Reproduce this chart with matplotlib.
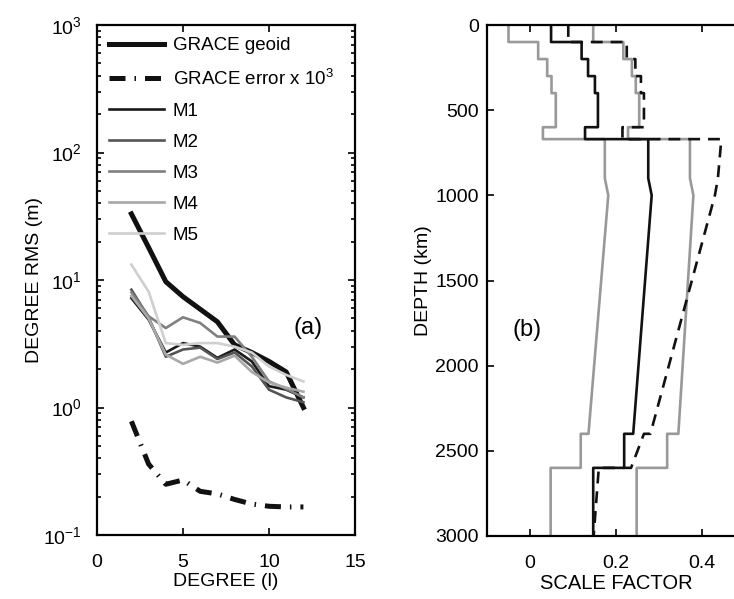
import numpy as np
import matplotlib
matplotlib.use('Agg')
import matplotlib.pyplot as plt

plt.rcParams['font.family'] = ['Liberation Sans', 'DejaVu Sans']
plt.rcParams['mathtext.fontset'] = 'custom'
plt.rcParams['mathtext.rm'] = 'Liberation Sans'

# panel (a): degree rms spectra
degree = [2, 3, 4, 5, 6, 7, 8, 9, 10, 11, 12]
grace_geoid = [33, 18, 9.7, 7.4, 5.9, 4.7, 3.1, 2.7, 2.3, 1.9, 1.0]
grace_err = [0.78, 0.36, 0.25, 0.27, 0.22, 0.21, 0.19, 0.175, 0.168, 0.166, 0.166]
m1 = [7.2, 4.9, 2.7, 3.2, 3.0, 2.45, 2.85, 2.3, 1.47, 1.38, 1.2]
m2 = [8.4, 5.1, 2.5, 2.85, 2.95, 2.4, 2.7, 2.1, 1.38, 1.2, 1.1]
m3 = [8.0, 5.2, 4.2, 5.1, 4.6, 3.6, 3.6, 2.5, 1.6, 1.4, 1.2]
m4 = [7.5, 5.0, 2.6, 2.2, 2.5, 2.25, 2.55, 1.9, 1.57, 1.43, 1.33]
m5 = [13.2, 8.1, 3.2, 3.1, 3.2, 3.2, 3.0, 2.7, 2.1, 1.8, 1.6]
model_names = ['M1', 'M2', 'M3', 'M4', 'M5']
model_colors = ['#1a1a1a', '#555555', '#808080', '#a8a8a8', '#cfcfcf']

# panel (b): scale factor profiles
depth = [0, 100, 100, 200, 200, 300, 300, 400, 400, 600, 600, 670, 670,
         900, 1000, 2400, 2400, 2600, 2600, 3000]
sf_mid = [0.049, 0.049, 0.12, 0.12, 0.135, 0.135, 0.151, 0.151, 0.158, 0.158,
          0.128, 0.128, 0.275, 0.275, 0.283, 0.24, 0.219, 0.219, 0.147, 0.147]
sf_low = [-0.05, -0.05, 0.019, 0.019, 0.04, 0.04, 0.05, 0.05, 0.06, 0.06,
          0.03, 0.03, 0.174, 0.174, 0.182, 0.136, 0.118, 0.118, 0.048, 0.048]
sf_high = [0.147, 0.147, 0.217, 0.217, 0.237, 0.237, 0.246, 0.246, 0.254, 0.254,
           0.228, 0.228, 0.372, 0.372, 0.38, 0.345, 0.319, 0.319, 0.248, 0.248]
sf_dash = [0.089, 0.089, 0.225, 0.225, 0.245, 0.245, 0.258, 0.258, 0.265, 0.265,
           0.215, 0.215, 0.445, 0.437, 0.43, 0.28, 0.265, 0.235, 0.16, 0.148]

fig = plt.figure(figsize=(7.34, 5.99), dpi=100)

def style_axes(ax, ypad):
    ax.tick_params(direction='in', which='both', top=True, right=True,
                   labelsize=14, width=1.2, length=5)
    ax.tick_params(axis='x', pad=14)
    ax.tick_params(axis='y', pad=ypad)
    ax.tick_params(which='minor', length=3)
    for s in ax.spines.values():
        s.set_linewidth(1.6)

#----------------------------
# left: degree rms
ax1 = fig.add_axes([97 / 734, 64 / 599, 258 / 734, 510 / 599])
ax1.semilogy(degree, grace_geoid, color='#111111', lw=3.6, label='GRACE geoid')
ax1.semilogy(degree, grace_err, color='#111111', lw=3.6,
             dashes=(3.2, 1.8, 0.3, 1.8), label='GRACE error x 10$^3$')
for vals, name, col in zip([m1, m2, m3, m4, m5], model_names, model_colors):
    ax1.semilogy(degree, vals, color=col, lw=1.9, label=name)
ax1.set_xlim(0, 15)
ax1.set_ylim(1e-1, 1e3)
ax1.set_xticks([0, 5, 10, 15])
ax1.set_xlabel('DEGREE (l)', fontsize=14, labelpad=1)
ax1.set_ylabel('DEGREE RMS (m)', fontsize=14, labelpad=0)
style_axes(ax1, 11)
ax1.text(12.3, 4.2, '(a)', fontsize=17, ha='center', va='center')
ax1.legend(loc='upper left', frameon=False, fontsize=13.5, handlelength=2.9,
           handletextpad=0.5, labelspacing=0.74, borderaxespad=0.5,
           borderpad=0.15)

#----------------------------
# right: scale factor vs depth
ax2 = fig.add_axes([487 / 734, 63 / 599, 258 / 734, 511 / 599])
ax2.plot(sf_low, depth, color='#999999', lw=1.9)
ax2.plot(sf_high, depth, color='#999999', lw=1.9)
ax2.plot(sf_mid, depth, color='#111111', lw=1.9)
ax2.plot(sf_dash, depth, color='#111111', lw=1.9, dashes=(4.5, 3.0))
ax2.set_xlim(-0.1, 0.5)
ax2.set_ylim(3000, 0)
ax2.set_xticks([0, 0.2, 0.4])
ax2.set_xticklabels(['0', '0.2', '0.4'])
ax2.set_yticks([0, 500, 1000, 1500, 2000, 2500, 3000])
ax2.set_xlabel('SCALE FACTOR', fontsize=14.5, labelpad=1)
ax2.set_ylabel('DEPTH (km)', fontsize=14, labelpad=2)
style_axes(ax2, 6)
ax2.text(-0.007, 1791, '(b)', fontsize=17, ha='center', va='center')

fig.savefig('out.png', dpi=100)
